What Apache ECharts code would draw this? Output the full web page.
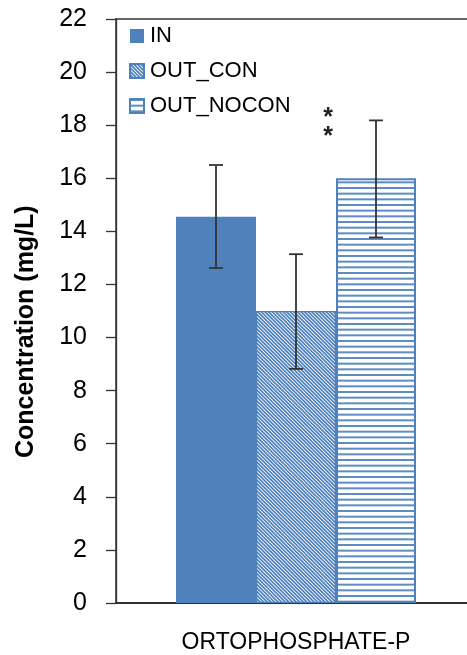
<!DOCTYPE html>
<html>
<head>
<meta charset="utf-8">
<title>Orthophosphate-P concentration</title>
<script src="https://cdn.jsdelivr.net/npm/echarts@6/dist/echarts.min.js"></script>
<style>
  html, body { margin: 0; padding: 0; background: #fff; }
  #chart { width: 467px; height: 655px; }
</style>
</head>
<body>
<div id="chart"></div>
<script>
// Data
const categories = ['ORTOPHOSPHATE-P'];
const seriesNames = ['IN', 'OUT_CON', 'OUT_NOCON'];
const meanValues = [14.55, 11.0, 16.0];
const errLow = [12.62, 8.82, 13.77];
const errHigh = [16.5, 13.14, 18.18];
const significance = ['', '', '*'];
const yTicks = { min: 0, max: 22, interval: 2 };

const BLUE = '#4F81BD';
const FONT = '"Liberation Sans", Arial, sans-serif';
const BAR_W = 80;

// Fill patterns for the hatched bars
function diagonalTile() {
  const s = 18, step = 3.6;
  const c = document.createElement('canvas');
  c.width = s; c.height = s;
  const g = c.getContext('2d');
  g.fillStyle = '#fff';
  g.fillRect(0, 0, s, s);
  g.strokeStyle = BLUE;
  g.lineWidth = 1.7;
  for (let k = -s; k <= s; k += step) {
    g.beginPath();
    g.moveTo(k - 3, -3);
    g.lineTo(k + s + 3, s + 3);
    g.stroke();
  }
  return c;
}
function horizontalTile() {
  const w = 4, h = 17, step = h / 3;
  const c = document.createElement('canvas');
  c.width = w; c.height = h;
  const g = c.getContext('2d');
  g.fillStyle = '#fff';
  g.fillRect(0, 0, w, h);
  g.fillStyle = '#5f8cc6';
  for (let i = 0; i < 3; i++) g.fillRect(0, i * step, w, 2);
  return c;
}

const fills = [
  BLUE,
  { image: diagonalTile(), repeat: 'repeat' },
  { image: horizontalTile(), repeat: 'repeat' }
];
const borders = [
  { borderWidth: 0 },
  { borderColor: BLUE, borderWidth: 1.2 },
  { borderColor: BLUE, borderWidth: 2 }
];

const barSeries = seriesNames.map((name, i) => ({
  name: name,
  type: 'bar',
  barWidth: BAR_W,
  barGap: '0%',
  data: [meanValues[i]],
  itemStyle: Object.assign({ color: fills[i] }, borders[i]),
  emphasis: { disabled: true }
}));

// Error bars (and significance marks) drawn from the low/high arrays
const errorSeries = {
  type: 'custom',
  name: 'error',
  z: 5,
  data: errLow.map((lo, i) => [0, lo, errHigh[i], i]),
  encode: { x: 0, y: [1, 2] },
  renderItem: function (params, api) {
    const idx = api.value(3);
    const dx = (idx - 1) * BAR_W;
    const lo = api.coord([api.value(0), api.value(1)]);
    const hi = api.coord([api.value(0), api.value(2)]);
    const x = lo[0] + dx;
    const cap = 7;
    const style = { stroke: '#333', lineWidth: 1.8 };
    const children = [
      { type: 'line', shape: { x1: x, y1: lo[1], x2: x, y2: hi[1] }, style: style },
      { type: 'line', shape: { x1: x - cap, y1: lo[1], x2: x + cap, y2: lo[1] }, style: style },
      { type: 'line', shape: { x1: x - cap, y1: hi[1], x2: x + cap, y2: hi[1] }, style: style }
    ];
    const mark = significance[idx];
    if (mark) {
      [0, 19].forEach(function (off) {
        children.push({
          type: 'text',
          style: {
            text: mark, x: x - 48, y: hi[1] - 2 + off,
            align: 'center', verticalAlign: 'middle',
            font: 'bold 25px ' + FONT, fill: '#222'
          }
        });
      });
    }
    return { type: 'group', children: children };
  }
};

const chart = echarts.init(document.getElementById('chart'), null, { renderer: 'canvas' });
chart.setOption({
  animation: false,
  backgroundColor: '#fff',
  grid: {
    left: 116, top: 19, bottom: 52, width: 360,
    outerBoundsMode: 'none',
    show: true, borderColor: '#666', borderWidth: 2, backgroundColor: 'transparent'
  },
  legend: {
    data: seriesNames,
    orient: 'vertical',
    left: 124, top: 20,
    itemWidth: 14, itemHeight: 14, itemGap: 13,
    icon: 'rect',
    selectedMode: false,
    textStyle: { fontFamily: FONT, fontSize: 22, color: '#000', padding: [0, 0, 0, 1] }
  },
  xAxis: {
    type: 'category',
    data: categories,
    axisLine: { lineStyle: { color: '#222', width: 1.5 } },
    axisTick: { show: false },
    axisLabel: { fontFamily: FONT, fontSize: 23, color: '#000', margin: 28 }
  },
  yAxis: {
    type: 'value',
    min: yTicks.min, max: yTicks.max, interval: yTicks.interval,
    axisLine: { show: true, lineStyle: { color: '#333', width: 1.3 } },
    axisTick: { show: true, length: 10, lineStyle: { color: '#333', width: 1.3 } },
    splitLine: { show: false },
    axisLabel: { fontFamily: FONT, fontSize: 25, color: '#000', margin: 29 }
  },
  graphic: [{
    type: 'text',
    x: 26.5, y: 331.7,
    rotation: Math.PI / 2,
    style: {
      text: 'Concentration (mg/L)',
      align: 'center', verticalAlign: 'middle',
      font: 'bold 25px ' + FONT, fill: '#000'
    }
  }],
  series: barSeries.concat([errorSeries])
});
</script>
</body>
</html>
